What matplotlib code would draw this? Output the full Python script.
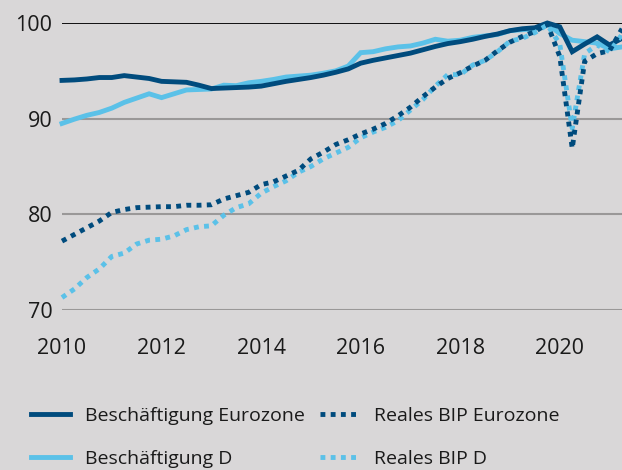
import matplotlib
matplotlib.use("Agg")
import matplotlib.pyplot as plt
import numpy as np

plt.rcParams['font.family'] = ['Open Sans', 'DejaVu Sans']

# Quarterly data, 2010 Q1 .. 2021 Q2 (index, 2019 Q4 = 100)
start_year = 2010
beschaeftigung_eurozone = [
    94.0, 94.05, 94.15, 94.3, 94.3, 94.5, 94.35, 94.2,
    93.9, 93.85, 93.8, 93.5, 93.15, 93.2, 93.25, 93.3,
    93.4, 93.65, 93.9, 94.1, 94.3, 94.55, 94.85, 95.2,
    95.8, 96.1, 96.35, 96.6, 96.85, 97.2, 97.55, 97.85,
    98.05, 98.3, 98.6, 98.85, 99.2, 99.4, 99.5, 100.0,
    99.6, 97.0, 97.8, 98.55, 97.7, 98.4]
beschaeftigung_d = [
    89.5, 89.95, 90.35, 90.65, 91.1, 91.7, 92.15, 92.6,
    92.2, 92.6, 93.0, 93.05, 93.1, 93.5, 93.45, 93.75,
    93.9, 94.1, 94.35, 94.45, 94.55, 94.75, 95.0, 95.5,
    96.9, 97.0, 97.3, 97.5, 97.6, 97.9, 98.3, 98.1,
    98.2, 98.5, 98.65, 98.8, 99.2, 99.3, 99.4, 99.9,
    98.9, 98.2, 98.05, 97.9, 97.3, 97.5]
reales_bip_eurozone = [
    77.2, 77.9, 78.6, 79.3, 80.2, 80.5, 80.7, 80.75,
    80.8, 80.8, 80.95, 80.95, 81.0, 81.6, 81.95, 82.3,
    83.1, 83.4, 84.0, 84.6, 85.8, 86.5, 87.3, 87.8,
    88.4, 88.9, 89.5, 90.3, 91.2, 92.3, 93.3, 94.2,
    94.8, 95.5, 96.1, 97.1, 98.0, 98.6, 99.1, 99.9,
    96.5, 86.9, 96.0, 96.8, 97.1, 99.4]
reales_bip_d = [
    71.3, 72.2, 73.4, 74.3, 75.6, 75.95, 76.9, 77.3,
    77.4, 77.75, 78.4, 78.7, 78.8, 79.9, 80.7, 81.1,
    82.2, 82.9, 83.5, 84.4, 85.0, 85.8, 86.4, 87.0,
    88.0, 88.6, 89.1, 89.8, 90.9, 92.0, 93.4, 94.6,
    94.6, 95.6, 96.1, 97.0, 98.1, 98.4, 99.0, 99.8,
    97.8, 89.0, 96.8, 97.7, 97.0, 98.8]
labels = ["Beschäftigung Eurozone", "Beschäftigung D",
          "Reales BIP Eurozone", "Reales BIP D"]
x_ticks = [2010, 2012, 2014, 2016, 2018, 2020]
y_ticks = [70, 80, 90, 100]

n = len(beschaeftigung_eurozone)
t = start_year + np.arange(n) * 0.25

BG = "#d9d7d8"
DARK = "#004b7d"
LIGHT = "#5bc1e8"

W, H = 622, 470
fig = plt.figure(figsize=(W / 100, H / 100), dpi=100, facecolor=BG)
ax = fig.add_axes([62 / W, (H - 310) / H, (W - 62) / W, (310 - 23) / H])
ax.set_facecolor(BG)

for y in y_ticks:
    ax.axhline(y, color="black" if y == 100 else "#9a9898", lw=1.3 if y == 100 else 1.5, zorder=1)

lw = 3.5
l2, = ax.plot(t, beschaeftigung_d, color=LIGHT, lw=lw, clip_on=False, zorder=3, solid_joinstyle="miter")
l1, = ax.plot(t, beschaeftigung_eurozone, color=DARK, lw=lw, clip_on=False, zorder=4, solid_joinstyle="miter")
l4, = ax.plot(t, reales_bip_d, color=LIGHT, lw=lw, ls=(0, (1, 1.1)), clip_on=False, zorder=5)
l3, = ax.plot(t, reales_bip_eurozone, color=DARK, lw=lw, ls=(0, (1, 1.1)), clip_on=False, zorder=6)

ax.set_xlim(start_year, t[-1])
ax.set_ylim(70, 100)
ax.set_xticks(x_ticks)
ax.set_yticks(y_ticks)
ax.tick_params(length=0, labelsize=15.5, colors="#1a1a1a", pad=7)
ax.tick_params(axis="x", pad=20)
for s in ax.spines.values():
    s.set_visible(False)

leg = fig.legend([l1, l2, l3, l4], labels, ncol=2, loc="upper left",
                 bbox_to_anchor=(23 / W, 1 - 399 / H), frameon=False,
                 fontsize=14, handlelength=2.0, handletextpad=0.77,
                 columnspacing=0.8, labelspacing=1.3, borderaxespad=0)
for txt in leg.get_texts():
    txt.set_color("#1a1a1a")

fig.savefig("out.png", dpi=100, facecolor=BG)
